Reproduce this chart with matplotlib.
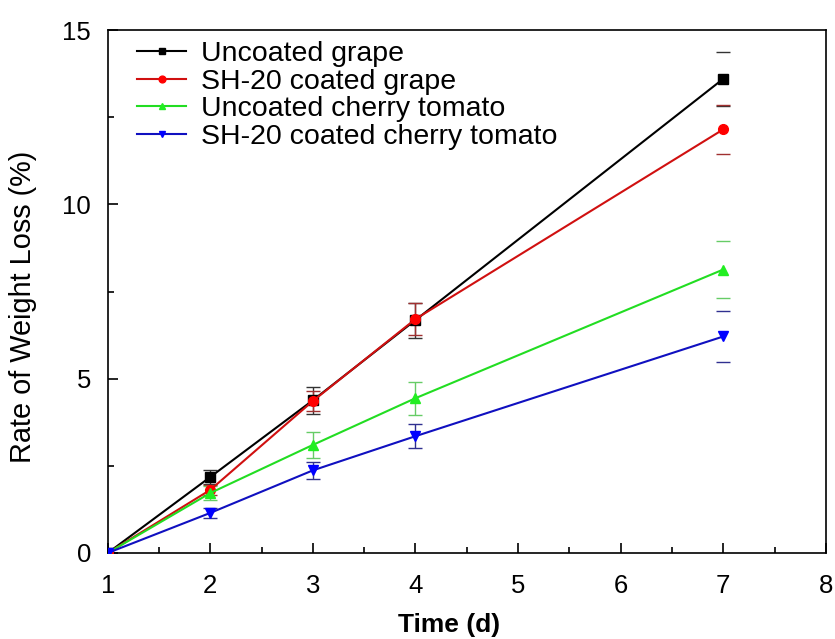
import matplotlib
matplotlib.use("Agg")
import matplotlib.pyplot as plt
from matplotlib.ticker import MultipleLocator

plt.rcParams['font.family'] = ['Liberation Sans', 'DejaVu Sans']

days = [1, 2, 3, 4, 7]
labels = ["Uncoated grape", "SH-20 coated grape", "Uncoated cherry tomato", "SH-20 coated cherry tomato"]
uncoated_grape = [0, 2.18, 4.38, 6.68, 13.6]
uncoated_grape_err = [0, 0.2, 0.38, 0.5, 0.77]
coated_grape = [0, 1.81, 4.36, 6.71, 12.15]
coated_grape_err = [0, 0.15, 0.3, 0.45, 0.7]
uncoated_tomato = [0, 1.72, 3.1, 4.44, 8.13]
uncoated_tomato_err = [0, 0.2, 0.38, 0.47, 0.82]
coated_tomato = [0, 1.15, 2.37, 3.35, 6.21]
coated_tomato_err = [0, 0.15, 0.25, 0.35, 0.73]

series = [uncoated_grape, coated_grape, uncoated_tomato, coated_tomato]
errs = [uncoated_grape_err, coated_grape_err, uncoated_tomato_err, coated_tomato_err]
colors = ['#000000', '#d01010', '#22dd22', '#1010c0']
mfcs = ['#000000', '#ff0000', '#22ee22', '#0000ff']
markers = ['s', 'o', '^', 'v']
errcolors = ['#333333', '#a03030', '#66cc66', '#303090']

fig = plt.figure(figsize=(8.35, 6.39), dpi=100)
ax = fig.add_axes([0.129, 0.1346, 0.86, 0.8184])

for y, e, c, mf, m, ec, lab in zip(series, errs, colors, mfcs, markers, errcolors, labels):
    ax.errorbar(days[:-1], y[:-1], yerr=e[:-1], fmt='none', ecolor=ec, elinewidth=1.0,
                capsize=5, capthick=1.0, zorder=2)
    ax.errorbar(days[-1:], y[-1:], yerr=e[-1:], fmt='none', ecolor=ec, elinewidth=0,
                capsize=5, capthick=1.0, zorder=2)
    ax.plot(days, y, color=c, marker=m, markersize=7, markerfacecolor=mf, markeredgecolor=mf,
            linewidth=1.5, label=lab, zorder=3)

ax.set_xlim(1, 8)
ax.set_ylim(0, 15)
ax.xaxis.set_major_locator(MultipleLocator(1))
ax.xaxis.set_minor_locator(MultipleLocator(0.5))
ax.yaxis.set_major_locator(MultipleLocator(5))
ax.yaxis.set_minor_locator(MultipleLocator(2.5))
ax.tick_params(which='both', direction='in', top=False, right=False, labelsize=18.5, width=1.2)
ax.tick_params(axis='x', which='major', pad=15)
ax.tick_params(axis='y', which='major', pad=12)
ax.tick_params(which='major', length=7)
ax.tick_params(which='minor', length=4)
for s in ax.spines.values():
    s.set_linewidth(1.2)

ax.set_xlabel("Time (d)", fontsize=19, fontweight='bold')
ax.xaxis.set_label_coords(0.476, -0.114)
ax.set_ylabel("Rate of Weight Loss (%)", fontsize=20.8)
ax.yaxis.set_label_coords(-0.099, 0.47)

ax.legend(loc='upper left', frameon=False, fontsize=20.5, handlelength=1.72, markerscale=0.7,
          borderaxespad=0, labelspacing=0.05, handletextpad=0.53, bbox_to_anchor=(0.025, 1.0))

fig.savefig("out.png", dpi=100)
